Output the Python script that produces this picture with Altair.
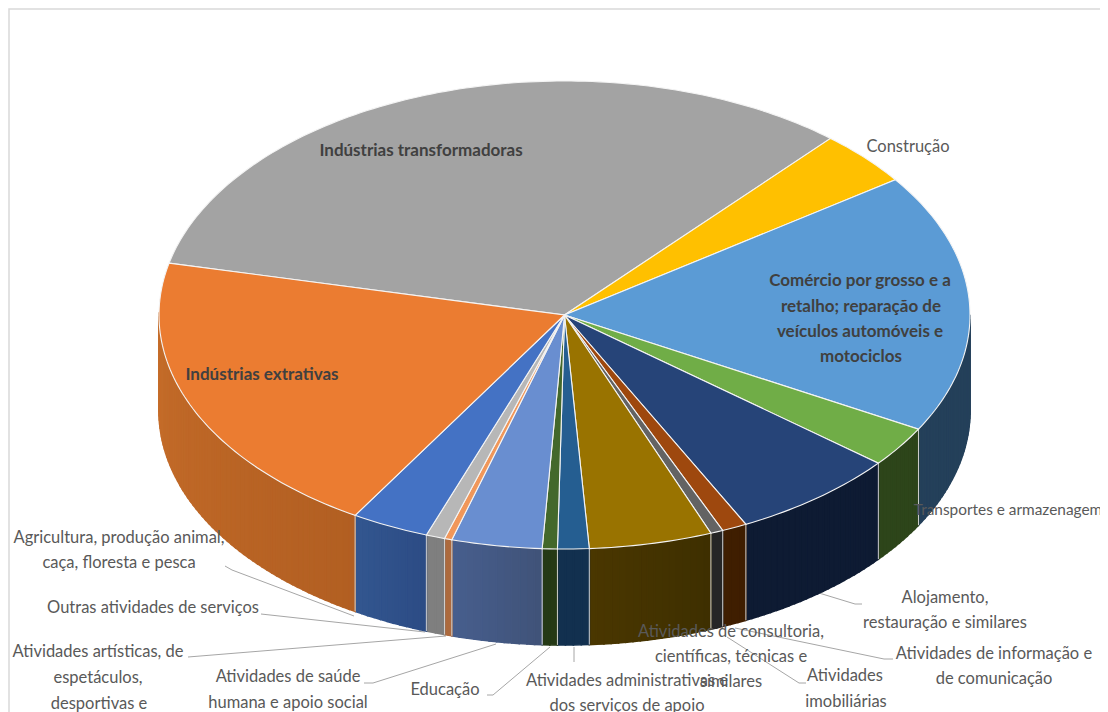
import math
import altair as alt
import pandas as pd

# Pie shares (per cent), clockwise from the orange/grey boundary
sectors = ["Indústrias transformadoras", "Construção", "Comércio", "Transportes e armazenagem",
           "Alojamento", "Informação", "Imobiliárias", "Consultoria", "Administrativas",
           "Educação", "Saúde", "Artísticas", "Outras", "Agricultura", "Extrativas"]
shares = [32.8, 3.8, 17.9, 2.8, 6.7, 1.0, 0.5, 4.9, 1.25, 0.6, 3.6, 0.3, 0.75, 3.1, 19.9]
top_colors = ["#a3a3a3", "#ffc000", "#5b9bd5", "#70ad47", "#264478", "#9e480e", "#636363", "#997300",
              "#255e91", "#43682b", "#698ed0", "#f1975a", "#b7b7b7", "#4472c4", "#eb7c31"]
wall_left = ["#7c7c7c", "#bf9000", "#24405a", "#2d451a", "#0e1b33", "#3f1e00", "#262626", "#4a3700",
             "#12304f", "#253915", "#475f8e", "#ad6a3e", "#7f7f7f", "#33568f", "#c96f2b"]
wall_right = ["#7c7c7c", "#bf9000", "#24405a", "#2d451a", "#0e1b33", "#3f1e00", "#262626", "#3e2f00",
              "#12304f", "#253915", "#405278", "#ad6a3e", "#7f7f7f", "#2c4c85", "#b25f22"]

# Labels: text, centre x, y, bold, font size
label_text = ["Indústrias transformadoras", "Construção", "Comércio por grosso e a", "retalho; reparação de",
              "veículos automóveis e", "motociclos", "Indústrias extrativas", "Transportes e armazenagem",
              "Agricultura,  produção animal,", "caça, floresta e pesca", "Outras atividades de serviços",
              "Atividades  artísticas, de", "espetáculos,", "desportivas e", "Atividades  de saúde",
              "humana  e apoio  social", "Educação", "Atividades  administrativas e", "dos serviços de apoio",
              "Atividades  de consultoria,", "científicas, técnicas  e", "similares", "Alojamento,",
              "restauração e similares", "Atividades  de informação e", "de comunicação", "Atividades", "imobiliárias"]
label_x = [421, 908, 860, 861, 860, 861, 262, 1008, 119, 119, 153, 98, 98, 99, 288, 288, 445, 627, 627,
           731, 731, 731, 945, 945, 994, 994, 845, 846]
label_y = [151, 147, 281, 307, 332, 357, 375, 510, 538, 563, 608, 652, 678, 704, 677, 703, 690, 681, 706,
           632, 657, 682, 598, 623, 654, 679, 676, 702]
label_bold = [1, 0, 1, 1, 1, 1, 1] + [0] * 21
label_size = [17, 16.5, 17, 17, 17, 17, 17, 15.4] + [16.5] * 20

# Leader lines, one polyline id per connector
leader_id = [0, 0, 0, 1, 1, 2, 2, 3, 3, 3, 4, 4, 4, 5, 5, 6, 6, 6, 7, 7, 7, 8, 8, 8]
leader_x = [225, 232, 354, 261, 425, 188, 446, 364, 373, 496, 487, 493, 550, 574, 574,
            806, 799, 727, 893, 884, 735, 862, 855, 819]
leader_y = [566, 570, 616, 614, 632, 657, 636, 683, 683, 644, 695, 695, 647, 647, 662,
            683, 683, 637, 659, 659, 628, 604, 604, 593]

CX, CY, RX, RY, DEPTH, START = 564.5, 315.0, 405.5, 234.0, 96.0, 282.8


def pt(deg, drop=0.0):
    a = math.radians(deg)
    return [CX + RX * math.sin(a), CY - RY * math.cos(a) + drop]


def mix(c1, c2, f):
    a = [int(c1[i:i + 2], 16) for i in (1, 3, 5)]
    b = [int(c2[i:i + 2], 16) for i in (1, 3, 5)]
    return "#%02x%02x%02x" % tuple(round(p + (q - p) * f) for p, q in zip(a, b))


def feature(ring, fill):
    return {"type": "Feature", "properties": {"fill": fill},
            "geometry": {"type": "Polygon", "coordinates": [ring + [ring[0]]]}}


total = sum(shares)
tops, walls, seps, cur = [], [], [], START
for share, col, wl, wr in zip(shares, top_colors, wall_left, wall_right):
    end = cur + share / total * 360
    n = max(2, int((end - cur) / 1.0))
    arc = [cur + (end - cur) * i / n for i in range(n + 1)]
    tops.append(feature([[CX, CY]] + [pt(a) for a in arc], col))
    for i in range(n):
        a0, a1 = arc[i] % 360, arc[i + 1] % 360
        if 89 < a0 < 271 and 89 < a1 < 271:
            # shade runs from the slice's screen-right end to its screen-left end
            walls.append(feature([pt(a0), pt(a1), pt(a1, DEPTH), pt(a0, DEPTH)], mix(wr, wl, (i + 0.5) / n)))
    e = end % 360
    if 90 < e < 270:
        p, q = pt(e), pt(e, DEPTH)
        seps.append({"x": p[0], "y": p[1], "x2": q[0], "y2": q[1]})
    cur = end

proj = dict(type="identity", scale=1, translate=[-8, -8])
xs = alt.Scale(domain=[8, 1100])
ys = alt.Scale(domain=[712, 8])
X = lambda f: alt.X(f, type="quantitative", scale=xs, axis=None)
Y = lambda f: alt.Y(f, type="quantitative", scale=ys, axis=None)

wall_layer = alt.Chart(alt.Data(values=walls)).mark_geoshape(strokeWidth=1.6).encode(
    color=alt.Color("properties.fill:N", scale=None),
    stroke=alt.Stroke("properties.fill:N", scale=None)).project(**proj)
top_layer = alt.Chart(alt.Data(values=tops)).mark_geoshape(stroke="#f4f4f4", strokeWidth=1.1).encode(
    color=alt.Color("properties.fill:N", scale=None)).project(**proj)
sep_layer = alt.Chart(pd.DataFrame(seps)).mark_rule(color="#d0d0d0", strokeWidth=1).encode(
    x=X("x"), y=Y("y"), x2="x2", y2="y2")

leaders = pd.DataFrame({"id": leader_id, "x": leader_x, "y": leader_y})
leaders["k"] = leaders.groupby("id").cumcount()
leader_layer = alt.Chart(leaders).mark_line(color="#a6a6a6", strokeWidth=1).encode(
    x=X("x"), y=Y("y"), detail="id:N", order="k:Q")

labels = pd.DataFrame({"t": label_text, "x": label_x, "y": label_y, "b": label_bold, "s": label_size})
plain = alt.Chart(labels[labels.b == 0]).mark_text(
    font="Lato", color="#595959", align="center", baseline="middle").encode(
    x=X("x"), y=Y("y"), text="t:N", size=alt.Size("s:Q", scale=None))
bold = alt.Chart(labels[labels.b == 1]).mark_text(
    font="Lato", fontWeight="bold", color="#404040", align="center", baseline="middle").encode(
    x=X("x"), y=Y("y"), text="t:N", size=alt.Size("s:Q", scale=None))

frame = pd.DataFrame({"x": [9, 9, 1100], "y": [712, 9, 9], "k": [0, 1, 2]})
frame_layer = alt.Chart(frame).mark_line(color="#d9d9d9", strokeWidth=1.5).encode(
    x=X("x"), y=Y("y"), order="k:Q")

chart = alt.layer(frame_layer, leader_layer, wall_layer, sep_layer, top_layer, plain, bold).properties(
    width=1092, height=704, padding=0, autosize=alt.AutoSizeParams(type="none")
).configure_view(stroke=None)

chart.save("out.html", embed_options={"renderer": "svg", "actions": False})
